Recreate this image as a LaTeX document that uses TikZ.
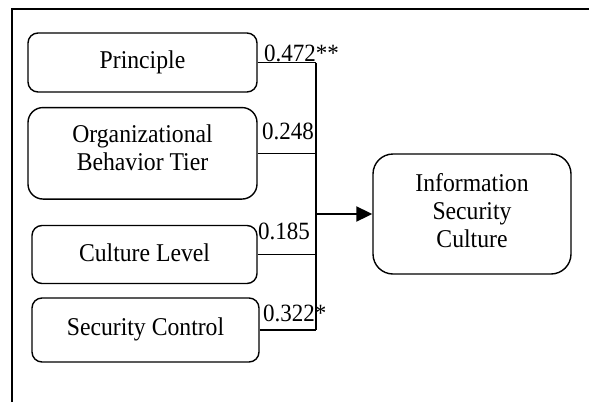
\documentclass[tikz,border=0pt]{standalone}
\usepackage{fontspec}
\setmainfont{Liberation Serif}
\usetikzlibrary{arrows.meta}
\newcommand\tallt[1]{\scalebox{1}[1.08]{#1}}
\begin{document}
\begin{tikzpicture}[x=1pt,y=-1pt,
  box/.style={draw, line width=1.4pt, align=center, inner sep=0pt, font=\fontsize{23.7}{27.7}\selectfont},
  coef/.style={anchor=base west, inner sep=0pt, font=\fontsize{23}{27}\selectfont},
  conn/.style={line width=1.2pt},
  mainarrow/.style={line width=2pt, -{Triangle[length=16pt,width=15pt]}}]
\useasboundingbox (0,0) rectangle (589,402);
\fill[white] (0,0) rectangle (589,402);
\draw[line width=1.5pt] (12,402) -- (12,9) -- (589,9);
\node[box, rounded corners=10pt, minimum width=229pt, minimum height=59pt] (p) at (142.5,62.5) {\tallt{Principle}};
\node[box, rounded corners=15pt, minimum width=229pt, minimum height=91.5pt, text depth=12pt] (o) at (142.5,153.3) {\tallt{Organizational}\\\tallt{Behavior Tier}};
\node[box, rounded corners=10pt, minimum width=225pt, minimum height=58pt, text depth=3pt] (c) at (144.5,254.5) {\tallt{Culture Level}};
\node[box, rounded corners=10pt, minimum width=227pt, minimum height=64pt, text depth=7pt] (s) at (145.5,330) {\tallt{Security Control}};
\node[box, rounded corners=20pt, minimum width=198pt, minimum height=120pt, text depth=7pt] (i) at (472,214) {\tallt{Information}\\\tallt{Security}\\\tallt{Culture}};
\coordinate (bus) at (316,0);
\draw[conn] (p.east) -- (p.east -| bus);
\draw[conn] (o.east) -- (o.east -| bus);
\draw[conn] (c.east) -- (c.east -| bus);
\draw[conn] (s.east) -- (s.east -| bus);
\draw[conn] (p.east -| bus) -- (s.east -| bus);
\draw[mainarrow] (i.west -| bus) -- (i.west);
\node[coef] (l1) at (264,61) {\tallt{0.472**}};
\node[coef] (l2) at (262,139) {\tallt{0.248}};
\node[coef] (l3) at (258,239) {\tallt{0.185}};
\node[coef] (l4) at (263,321) {\tallt{0.322*}};
\end{tikzpicture}
\end{document}
